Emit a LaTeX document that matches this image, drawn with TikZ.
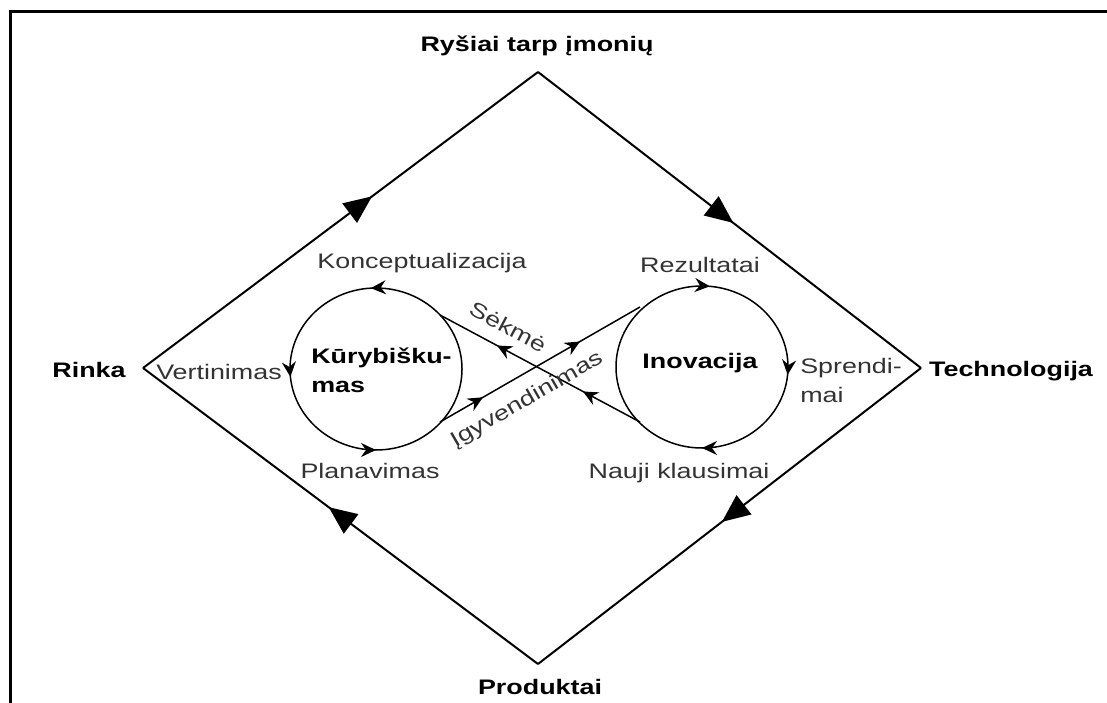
\documentclass[tikz,border=0pt]{standalone}
\usepackage{fontspec}
\setmainfont{Liberation Sans}
\usetikzlibrary{arrows.meta,decorations.markings,positioning}

\tikzset{
	maintip/.tip={Triangle[length=28pt, width=24pt]},
	flowtip/.tip={Stealth[length=15pt, width=14pt, inset=5pt]}
}

\begin{document}
\begin{tikzpicture}[
	x=1pt, y=-1pt,
	outer/.style={font=\fontsize{21}{25}\selectfont\bfseries, xscale=1.28, inner sep=0pt},
	phase/.style={font=\fontsize{21}{25}\selectfont, text=black!80, xscale=1.28, inner sep=0pt},
	core/.style={font=\fontsize{21}{29}\selectfont\bfseries, xscale=1.28, align=left, inner sep=0pt},
	rim/.style={line width=2pt, postaction={decorate}, decoration={markings, mark=at position #1 with {\arrow{maintip}}}},
	rim/.default=0.5,
	ring/.style={line width=1.5pt, postaction={decorate}},
	track/.style={line width=1.5pt, postaction={decorate}}
]
\useasboundingbox (0,0) rectangle (1107,703);
\draw[line width=3pt] (10,703) -- (10,12) -- (1107,12);

% outer diamond
\coordinate (wV) at (143,368);
\coordinate (nV) at (538,72);
\coordinate (eV) at (921,368);
\coordinate (sV) at (538,664);
\draw[rim=0.58] (wV) -- (nV);
\draw[rim=0.51] (nV) -- (eV);
\draw[rim=0.52] (eV) -- (sV);
\draw[rim=0.53] (sV) -- (wV);

\node[outer, anchor=base] (links) at (537,52) {Ryšiai tarp įmonių};
\node[outer, anchor=base] (market) at (89,377) {Rinka};
\node[outer, anchor=base] (tech) at (1011,376) {Technologija};
\node[outer, anchor=base] (products) at (540,694) {Produktai};

% the two loops
\coordinate (kc) at (376,369);
\coordinate (ic) at (702,367);
\draw[ring, decoration={markings,
	mark=at position 0.015 with {\arrow{flowtip}},
	mark=at position 0.25 with {\arrow{flowtip}},
	mark=at position 0.76 with {\arrow{flowtip}}}] (kc) ellipse [x radius=-86, y radius=81];
\draw[ring, decoration={markings,
	mark=at position 0.015 with {\arrow{flowtip}},
	mark=at position 0.25 with {\arrow{flowtip}},
	mark=at position 0.765 with {\arrow{flowtip}}}] (ic) ellipse [x radius=86, y radius=81];

\node[core, anchor=west] (creativity) at (311,370) {Kūrybišku-\\mas};
\node[core, anchor=base] (innovation) at (700,368) {Inovacija};

\node[phase, anchor=base] (concept) at (422,268) {Konceptualizacija};
\node[phase, anchor=base] (assess) at (219,379) {Vertinimas};
\node[phase, anchor=base] (plan) at (370,478) {Planavimas};
\node[phase, anchor=base] (results) at (700,272) {Rezultatai};
\node[phase, anchor=west, align=left, font=\fontsize{21}{29}\selectfont] (solutions) at (800,380) {Sprendi-\\mai};
\node[phase, anchor=base] (questions) at (679,478) {Nauji klausimai};

% crossing links
\coordinate (kurA) at (440,422);
\coordinate (inoA) at (640,307);
\coordinate (inoB) at (640,422);
\coordinate (kurB) at (440,315);
\draw[track, decoration={markings,
	mark=at position 0.215 with {\arrow{flowtip}},
	mark=at position 0.70 with {\arrow{flowtip}}}] (kurA) -- (inoA);
\draw[track, decoration={markings,
	mark=at position 0.285 with {\arrow{flowtip}},
	mark=at position 0.715 with {\arrow{flowtip}}}] (inoB) -- (kurB);

\node[rotate=-28, phase] (success) at (508,327) {Sėkmė};
\node[rotate=30, phase] (doing) at (527,400) {Įgyvendinimas};
\end{tikzpicture}
\end{document}
